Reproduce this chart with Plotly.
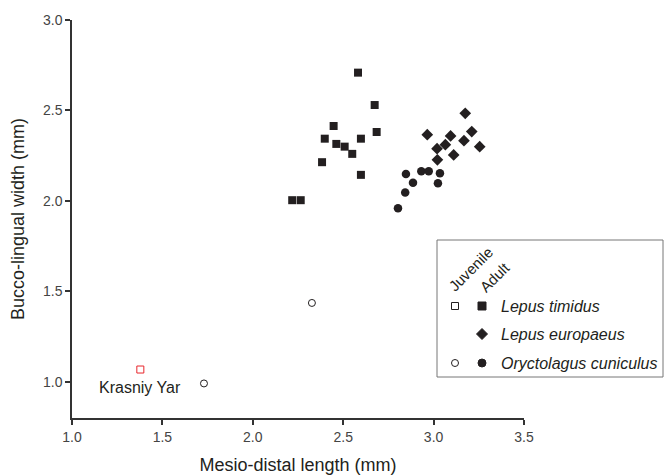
import plotly.graph_objects as go

# ---- data ----
timidus_x = [2.582, 2.674, 2.447, 2.685, 2.398, 2.598, 2.462, 2.508, 2.550, 2.383, 2.598, 2.218, 2.265]
timidus_y = [2.709, 2.530, 2.414, 2.381, 2.344, 2.344, 2.315, 2.300, 2.260, 2.214, 2.144, 2.004, 2.004]

europaeus_x = [3.175, 2.965, 3.094, 3.211, 3.065, 3.168, 3.255, 3.019, 3.111, 3.021]
europaeus_y = [2.484, 2.366, 2.359, 2.383, 2.311, 2.333, 2.300, 2.289, 2.254, 2.227]

cuniculus_x = [2.847, 2.932, 2.973, 3.035, 2.886, 3.024, 2.843, 2.803]
cuniculus_y = [2.149, 2.164, 2.164, 2.153, 2.101, 2.098, 2.046, 1.960]

juv_cuniculus_x = [1.730, 2.327]
juv_cuniculus_y = [0.991, 1.436]

krasniy_x = [1.378]
krasniy_y = [1.068]
krasniy_label = "Krasniy Yar"

legend_species = ["Lepus timidus", "Lepus europaeus", "Oryctolagus cuniculus"]
x_ticks = [1.0, 1.5, 2.0, 2.5, 3.0, 3.5]
y_ticks = [1.0, 1.5, 2.0, 2.5, 3.0]

INK = "#231f20"
FONT = "Arial, Liberation Sans, sans-serif"

fig = go.Figure()
fig.add_trace(go.Scatter(x=timidus_x, y=timidus_y, mode="markers",
                         marker=dict(symbol="square", size=8, color=INK, line=dict(width=0))))
fig.add_trace(go.Scatter(x=europaeus_x, y=europaeus_y, mode="markers",
                         marker=dict(symbol="diamond", size=9, color=INK, line=dict(width=0))))
fig.add_trace(go.Scatter(x=cuniculus_x, y=cuniculus_y, mode="markers",
                         marker=dict(symbol="circle", size=8.5, color=INK, line=dict(width=0))))
fig.add_trace(go.Scatter(x=juv_cuniculus_x, y=juv_cuniculus_y, mode="markers",
                         marker=dict(symbol="circle-open", size=7, color=INK, line=dict(width=1))))
fig.add_trace(go.Scatter(x=krasniy_x, y=krasniy_y, mode="markers",
                         marker=dict(symbol="square-open", size=7, color="#e8262c", line=dict(width=1))))

fig.add_annotation(x=1.375, y=0.967, text=krasniy_label, showarrow=False,
                   font=dict(family=FONT, size=16, color=INK))

# ---- custom legend box ----
L, T, W, H = 72, 20, 452, 398
def px(x):
    return (x - L) / W
def py(y):
    return (T + H - y) / H

shapes = [dict(type="rect", xref="paper", yref="paper",
               x0=px(437), x1=px(663), y0=py(240), y1=py(377),
               line=dict(color="#777777", width=1), fillcolor="white", layer="below")]

def mshape(kind, cx, cy, s, filled):
    d = dict(xref="paper", yref="paper", xsizemode="pixel", ysizemode="pixel",
             xanchor=px(cx), yanchor=py(cy),
             line=dict(color=INK, width=1),
             fillcolor=INK if filled else "white")
    if kind == "rect":
        d.update(type="rect", x0=-s / 2, x1=s / 2, y0=-s / 2, y1=s / 2)
    elif kind == "circle":
        d.update(type="circle", x0=-s / 2, x1=s / 2, y0=-s / 2, y1=s / 2)
    else:
        r = s / 2
        d.update(type="path", path=f"M {-r},0 L 0,{r} L {r},0 L 0,{-r} Z")
    return d

rows_y = [306, 334, 363]
shapes += [mshape("rect", 455, rows_y[0], 7, False), mshape("rect", 482, rows_y[0], 8, True),
           mshape("diamond", 482, rows_y[1], 11, True),
           mshape("circle", 455, rows_y[2], 7, False), mshape("circle", 482, rows_y[2], 8, True)]

for name, yy in zip(legend_species, rows_y):
    fig.add_annotation(xref="paper", yref="paper", x=px(499), y=py(yy), text=name,
                       xanchor="left", yanchor="middle", showarrow=False,
                       font=dict(family=FONT, size=16, color=INK, style="italic"))

fig.add_annotation(xref="paper", yref="paper", x=px(470), y=py(269), text="Juvenile",
                   xanchor="center", yanchor="middle",
                   textangle=-45, showarrow=False, font=dict(family=FONT, size=15, color=INK))
fig.add_annotation(xref="paper", yref="paper", x=px(494), y=py(277), text="Adult",
                   xanchor="center", yanchor="middle",
                   textangle=-45, showarrow=False, font=dict(family=FONT, size=15, color=INK))

axis_common = dict(showgrid=False, zeroline=False, showline=True, linecolor="#333333", linewidth=1.5,
                   ticks="outside", ticklen=5, tickwidth=1.5, tickcolor="#333333", automargin=False,
                   tickfont=dict(family=FONT, size=14, color="#444444"))

fig.update_layout(
    width=665, height=475, showlegend=False,
    paper_bgcolor="white", plot_bgcolor="white",
    margin=dict(l=L, r=665 - 524, t=T, b=475 - 418),
    shapes=shapes,
    xaxis=dict(range=[1.0, 3.5], tickvals=x_ticks, ticktext=[f"{v:.1f}" for v in x_ticks],
               title=dict(text="Mesio-distal length (mm)", standoff=15,
                          font=dict(family=FONT, size=18, color=INK)), **axis_common),
    yaxis=dict(range=[0.8, 3.0], tickvals=y_ticks, ticktext=[f"{v:.1f}" for v in y_ticks],
               title=dict(text="Bucco-lingual width (mm)", standoff=14,
                          font=dict(family=FONT, size=18, color=INK)), **axis_common),
)

fig.write_html("out.html", config={"displayModeBar": False},
               post_script="document.body.style.margin='0';document.body.style.overflow='hidden';")
